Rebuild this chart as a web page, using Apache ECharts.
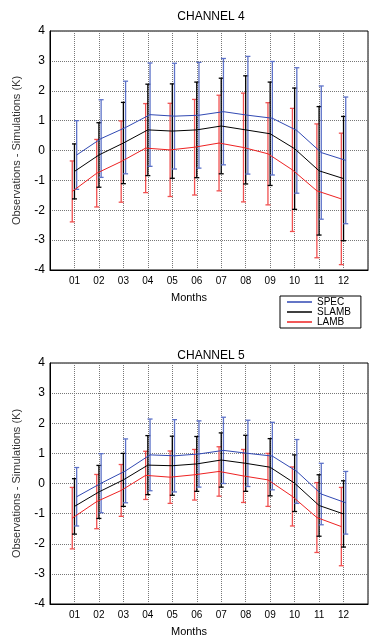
<!DOCTYPE html>
<html>
<head>
<meta charset="utf-8">
<script src="https://cdn.jsdelivr.net/npm/echarts@6/dist/echarts.min.js"></script>
<style>
  html, body { margin: 0; padding: 0; background: #fff; }
  #chart { width: 371px; height: 639px; }
</style>
</head>
<body>
<div id="chart"></div>
<script>
// months 01..12
var months = [1, 2, 3, 4, 5, 6, 7, 8, 9, 10, 11, 12];

// CHANNEL 4 : mean and half-width of error bar
var ch4SpecMean  = [-0.15, 0.40, 0.77, 1.20, 1.15, 1.18, 1.30, 1.18, 1.08, 0.67, -0.07, -0.33];
var ch4SpecErr   = [1.15, 1.30, 1.55, 1.73, 1.77, 1.77, 1.78, 1.97, 1.90, 2.10, 2.23, 2.12];
var ch4SlambMean = [-0.70, -0.15, 0.25, 0.69, 0.65, 0.69, 0.82, 0.69, 0.56, 0.06, -0.68, -0.94];
var ch4SlambErr  = [0.92, 1.08, 1.36, 1.53, 1.58, 1.60, 1.60, 1.81, 1.73, 2.03, 2.15, 2.08];
var ch4LambMean  = [-1.37, -0.76, -0.37, 0.08, 0.02, 0.11, 0.25, 0.10, -0.11, -0.65, -1.35, -1.62];
var ch4LambErr   = [1.02, 1.13, 1.36, 1.49, 1.56, 1.60, 1.60, 1.82, 1.71, 2.06, 2.24, 2.20];

// CHANNEL 5
var ch5SpecMean  = [-0.44, 0.01, 0.42, 0.95, 0.92, 0.98, 1.10, 1.00, 0.91, 0.40, -0.35, -0.64];
var ch5SpecErr   = [0.97, 0.98, 1.06, 1.19, 1.20, 1.10, 1.10, 1.10, 1.12, 1.06, 1.02, 1.04];
var ch5SlambMean = [-0.76, -0.28, 0.12, 0.61, 0.59, 0.65, 0.78, 0.67, 0.54, 0.01, -0.73, -1.01];
var ch5SlambErr  = [0.92, 0.88, 0.88, 0.98, 0.98, 0.91, 0.90, 0.93, 0.95, 0.94, 1.02, 1.10];
var ch5LambMean  = [-1.15, -0.60, -0.23, 0.27, 0.21, 0.29, 0.40, 0.25, 0.12, -0.43, -1.13, -1.43];
var ch5LambErr   = [1.02, 0.90, 0.86, 0.80, 0.87, 0.84, 0.82, 0.88, 0.88, 0.98, 1.16, 1.30];

var yTicks = [-4, -3, -2, -1, 0, 1, 2, 3, 4];

var chart = echarts.init(document.getElementById('chart'));

var specColor = '#3149b3', specBar = '#5d72c8';
var slambColor = '#000000', slambBar = '#000000';
var lambColor = '#ee2222', lambBar = '#f05050';
var fontFam = 'Liberation Sans, Arial, sans-serif';

// small horizontal shift so the bars don't overlap (in month units)
var shift = { SPEC: 0.09, SLAMB: 0, LAMB: -0.09 };

function errorBarSeries(name, idx, mean, err, color) {
  return {
    name: name + ' err',
    type: 'custom',
    xAxisIndex: idx,
    yAxisIndex: idx,
    z: 2,
    renderItem: function (params, api) {
      var x = api.value(0);
      var hi = api.coord([x, api.value(2)]);
      var lo = api.coord([x, api.value(1)]);
      var cap = 2.5;
      var st = { stroke: color, lineWidth: 1.3 };
      return {
        type: 'group',
        children: [
          { type: 'line', shape: { x1: hi[0], y1: hi[1], x2: lo[0], y2: lo[1] }, style: st },
          { type: 'line', shape: { x1: hi[0] - cap, y1: hi[1], x2: hi[0] + cap, y2: hi[1] }, style: st },
          { type: 'line', shape: { x1: lo[0] - cap, y1: lo[1], x2: lo[0] + cap, y2: lo[1] }, style: st }
        ]
      };
    },
    encode: { x: 0, y: [1, 2] },
    data: months.map(function (m, i) {
      return [m + shift[name], mean[i] - err[i], mean[i] + err[i]];
    })
  };
}

function meanSeries(name, idx, mean, color) {
  return {
    name: name,
    type: 'line',
    xAxisIndex: idx,
    yAxisIndex: idx,
    symbol: 'none',
    z: 3,
    lineStyle: { color: color, width: 1 },
    itemStyle: { color: color },
    data: months.map(function (m, i) { return [m + shift[name], mean[i]]; })
  };
}

function xAxisDef(idx) {
  return {
    type: 'value',
    gridIndex: idx,
    min: 0,
    max: 13,
    interval: 1,
    name: 'Months',
    nameLocation: 'middle',
    nameGap: 22,
    nameTextStyle: { color: '#000', fontSize: 11, fontFamily: fontFam, padding: [0, 40, 0, 0] },
    axisLine: { onZero: false, lineStyle: { color: '#000', width: 1 } },
    axisTick: { show: false },
    axisLabel: {
      color: '#000', fontSize: 10, fontFamily: fontFam, margin: 6,
      formatter: function (v) {
        return (v >= 1 && v <= 12) ? (v < 10 ? '0' + v : '' + v) : '';
      }
    },
    splitLine: { show: true, lineStyle: { color: '#777', type: [1, 1], width: 1 } }
  };
}

function yAxisDef(idx) {
  return {
    type: 'value',
    gridIndex: idx,
    min: yTicks[0],
    max: yTicks[yTicks.length - 1],
    interval: 1,
    name: 'Observations - Simulations (K)',
    nameLocation: 'middle',
    nameGap: 28,
    nameTextStyle: { color: '#333', fontSize: 11, fontFamily: fontFam },
    axisLine: { show: true, onZero: false, lineStyle: { color: '#000', width: 1 } },
    axisTick: { show: false },
    axisLabel: { color: '#000', fontSize: 12, fontFamily: fontFam, margin: 5 },
    splitLine: { show: true, lineStyle: { color: '#777', type: [1, 1], width: 1 } }
  };
}

var option = {
  backgroundColor: '#fff',
  animation: false,
  title: [
    { text: 'CHANNEL 4', left: 206, top: 6, textAlign: 'center',
      textStyle: { fontSize: 12, fontWeight: 'normal', color: '#000', fontFamily: fontFam } },
    { text: 'CHANNEL 5', left: 206, top: 345, textAlign: 'center',
      textStyle: { fontSize: 12, fontWeight: 'normal', color: '#000', fontFamily: fontFam } }
  ],
  legend: {
    orient: 'vertical',
    left: 280,
    top: 296,
    data: ['SPEC', 'SLAMB', 'LAMB'],
    icon: 'rect',
    itemWidth: 25,
    itemHeight: 1.5,
    itemGap: 0,
    padding: [1, 10, 1, 7],
    borderColor: '#000',
    borderWidth: 1,
    backgroundColor: '#fff',
    textStyle: { fontSize: 10, lineHeight: 9, color: '#000', fontFamily: fontFam }
  },
  grid: [
    { left: 50, top: 31, width: 327, height: 239, show: true, borderColor: '#000', borderWidth: 1, backgroundColor: 'transparent' },
    { left: 50, top: 363, width: 327, height: 241, show: true, borderColor: '#000', borderWidth: 1, backgroundColor: 'transparent' }
  ],
  xAxis: [xAxisDef(0), xAxisDef(1)],
  yAxis: [yAxisDef(0), yAxisDef(1)],
  series: [
    errorBarSeries('LAMB', 0, ch4LambMean, ch4LambErr, lambBar),
    errorBarSeries('SLAMB', 0, ch4SlambMean, ch4SlambErr, slambBar),
    errorBarSeries('SPEC', 0, ch4SpecMean, ch4SpecErr, specBar),
    meanSeries('SPEC', 0, ch4SpecMean, specColor),
    meanSeries('SLAMB', 0, ch4SlambMean, slambColor),
    meanSeries('LAMB', 0, ch4LambMean, lambColor),
    errorBarSeries('LAMB', 1, ch5LambMean, ch5LambErr, lambBar),
    errorBarSeries('SLAMB', 1, ch5SlambMean, ch5SlambErr, slambBar),
    errorBarSeries('SPEC', 1, ch5SpecMean, ch5SpecErr, specBar),
    meanSeries('SPEC', 1, ch5SpecMean, specColor),
    meanSeries('SLAMB', 1, ch5SlambMean, slambColor),
    meanSeries('LAMB', 1, ch5LambMean, lambColor)
  ]
};

chart.setOption(option);
</script>
</body>
</html>
